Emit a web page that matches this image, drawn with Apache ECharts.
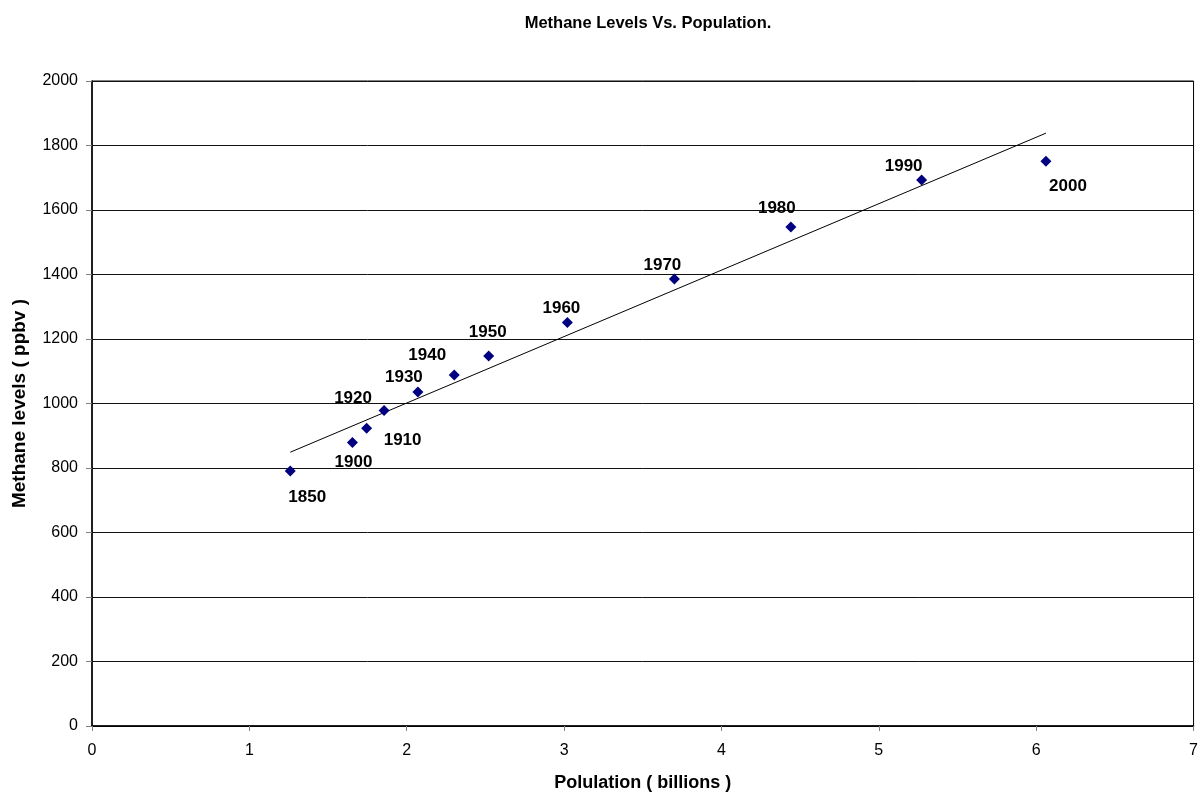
<!DOCTYPE html>
<html>
<head>
<meta charset="utf-8">
<script src="https://cdn.jsdelivr.net/npm/echarts@6/dist/echarts.min.js"></script>
<style>
html,body{margin:0;padding:0;background:#fff;}
#chart{width:1201px;height:797px;}
</style>
</head>
<body>
<div id="chart"></div>
<script>
// ---- data ----
const years = ['1850','1900','1910','1920','1930','1940','1950','1960','1970','1980','1990','2000'];
const population = [1.26, 1.655, 1.745, 1.856, 2.071, 2.302, 2.521, 3.021, 3.701, 4.441, 5.272, 6.062];
const methane = [791, 879, 923, 978, 1036, 1088, 1147, 1251, 1386, 1547, 1693, 1751];
const xTicks = [0, 1, 2, 3, 4, 5, 6, 7];
const yTicks = [0, 200, 400, 600, 800, 1000, 1200, 1400, 1600, 1800, 2000];

// ---- label placement (style) ----
const labelOffsets = {
  '1850': [17, 26], '1900': [1, 20], '1910': [36, 12], '1920': [-31, -12],
  '1930': [-14, -15], '1940': [-27, -20], '1950': [-1, -24], '1960': [-6, -14],
  '1970': [-12, -14], '1980': [-14, -19], '1990': [-18, -14], '2000': [22, 25]
};

// linear trend line (least squares) from data
const n = population.length;
const mx = population.reduce((a, b) => a + b, 0) / n;
const my = methane.reduce((a, b) => a + b, 0) / n;
let sxy = 0, sxx = 0;
for (let i = 0; i < n; i++) { sxy += (population[i] - mx) * (methane[i] - my); sxx += (population[i] - mx) ** 2; }
const slope = sxy / sxx, intercept = my - slope * mx;
const xmin = Math.min(...population), xmax = Math.max(...population);
const trend = [[xmin, intercept + slope * xmin], [xmax, intercept + slope * xmax]];

const pts = years.map((y, i) => ({
  value: [population[i], methane[i]],
  label: { offset: labelOffsets[y] }
}));

const chart = echarts.init(document.getElementById('chart'), null, { renderer: 'canvas' });
const font = 'Arial, "Liberation Sans", sans-serif';
chart.setOption({
  backgroundColor: '#ffffff',
  animation: false,
  textStyle: { fontFamily: font },
  title: {
    text: 'Methane Levels Vs. Population.',
    left: 643, top: 10, textAlign: 'center',
    textStyle: { fontFamily: font, fontSize: 16.5, fontWeight: 'bold', color: '#000' }
  },
  grid: { left: 92, right: 3, top: 81, bottom: 68, containLabel: false, show: true, borderColor: '#000', borderWidth: 1 },
  xAxis: {
    type: 'value', min: xTicks[0], max: xTicks[xTicks.length - 1], interval: 1,
    name: 'Polulation ( billions )', nameLocation: 'middle', nameGap: 48,
    nameTextStyle: { fontFamily: font, fontSize: 18, fontWeight: 'bold', color: '#000' },
    axisLine: { show: true, onZero: false, lineStyle: { color: '#000', width: 1.5 } },
    axisTick: { show: true, inside: false, length: 5, lineStyle: { color: '#808080' } },
    axisLabel: { fontFamily: font, fontSize: 16, color: '#000', margin: 17 },
    splitLine: { show: false }
  },
  yAxis: {
    type: 'value', min: yTicks[0], max: yTicks[yTicks.length - 1], interval: 200,
    name: 'Methane levels ( ppbv )', nameLocation: 'middle', nameGap: 63, nameRotate: 90,
    nameTextStyle: { fontFamily: font, fontSize: 19, fontWeight: 'bold', color: '#000' },
    axisLine: { show: true, onZero: false, lineStyle: { color: '#000', width: 1.5 } },
    axisTick: { show: true, length: 6, lineStyle: { color: '#808080' } },
    axisLabel: { fontFamily: font, fontSize: 16, color: '#000', margin: 14, formatter: v => String(v) },
    splitLine: { show: true, lineStyle: { color: '#111', width: 1 } }
  },
  series: [
    {
      type: 'line', data: trend, symbol: 'none', silent: true,
      lineStyle: { color: '#000', width: 1 }, z: 2
    },
    {
      type: 'scatter', data: pts, symbol: 'diamond', symbolSize: [11, 11],
      itemStyle: { color: '#000080', opacity: 1 }, z: 3,
      label: {
        show: true, position: 'inside',
        formatter: p => years[p.dataIndex],
        fontFamily: font, fontSize: 17, fontWeight: 'bold', color: '#000'
      }
    }
  ]
});
</script>
</body>
</html>
